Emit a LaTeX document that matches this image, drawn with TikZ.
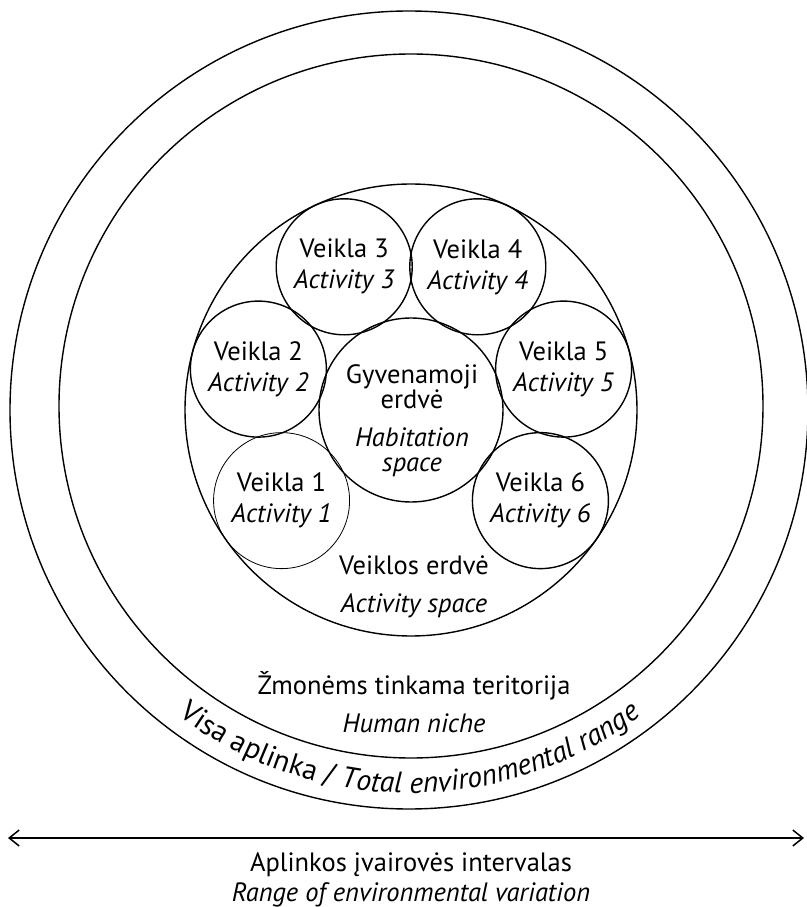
\documentclass[tikz,border=0pt]{standalone}
\usepackage{fontspec}
\setmainfont{PT Sans}
\usetikzlibrary{arrows.meta, positioning, decorations.text}

\begin{document}
\begin{tikzpicture}[
    x=1pt, y=1pt, >={Straight Barb[length=10pt, width=16pt]},
    ring/.style={draw, circle, line width=1.4pt, inner sep=0pt},
    actcircle/.style={ring, minimum size=136pt, align=center,
        font=\fontsize{26.5}{31}\selectfont},
    lbl/.style={align=center, font=\fontsize{26.5}{38}\selectfont}
  ]
  \useasboundingbox (-411,410) rectangle (395,-497);

  % rings
  \node[ring, minimum size=798pt] (total) at (-2,0) {};
  \node[ring, minimum size=704pt] (niche) at (0,4) {};
  \node[ring, minimum size=452pt] (actspace) at (0,0) {};
  \node[ring, minimum size=184pt] (hab) at (0,0) {};

  % activities round the habitation space
  \node[actcircle, line width=0.8pt] (act1) at (215:158) {Veikla 1\\\textit{Activity 1}};
  \node[actcircle] (act2) at (165:158) {Veikla 2\\\textit{Activity 2}};
  \node[actcircle] (act3) at (115:158) {Veikla 3\\\textit{Activity 3}};
  \node[actcircle] (act4) at (65:158) {Veikla 4\\\textit{Activity 4}};
  \node[actcircle] (act5) at (15:158) {Veikla 5\\\textit{Activity 5}};
  \node[actcircle] (act6) at (-35:158) {Veikla 6\\\textit{Activity 6}};

  \node[lbl, font=\fontsize{26.5}{25}\selectfont] (habtxt) at (1,-11)
    {Gyvenamoji\\erdvė\\[13pt]\textit{Habitation}\\\textit{space}};
  \node[lbl] (actlbl) at (3,-177) {Veiklos erdvė\\\textit{Activity space}};
  \node[lbl] (nichelbl) at (3,-292) {Žmonėms tinkama teritorija\\\textit{Human niche}};

  \path[decorate, decoration={text along path, text align=center,
      text={|\fontsize{29.5}{29}\selectfont|Visa aplinka / |\fontsize{29.5}{29}\selectfont\itshape|Total environmental range}}]
    (-1,2) ++(200:385) arc[start angle=200, end angle=340, radius=385];

  % range arrow
  \coordinate (lowend) at (-403,-428);
  \coordinate (highend) at (393,-428);
  \draw[<->, line width=1.5pt] (lowend) -- (highend);
  \node[lbl, font=\fontsize{26.5}{30}\selectfont, below=11pt of lowend -| hab.south]
    (rangelbl) {Aplinkos įvairovės intervalas\\\textit{Range of environmental variation}};
\end{tikzpicture}
\end{document}
